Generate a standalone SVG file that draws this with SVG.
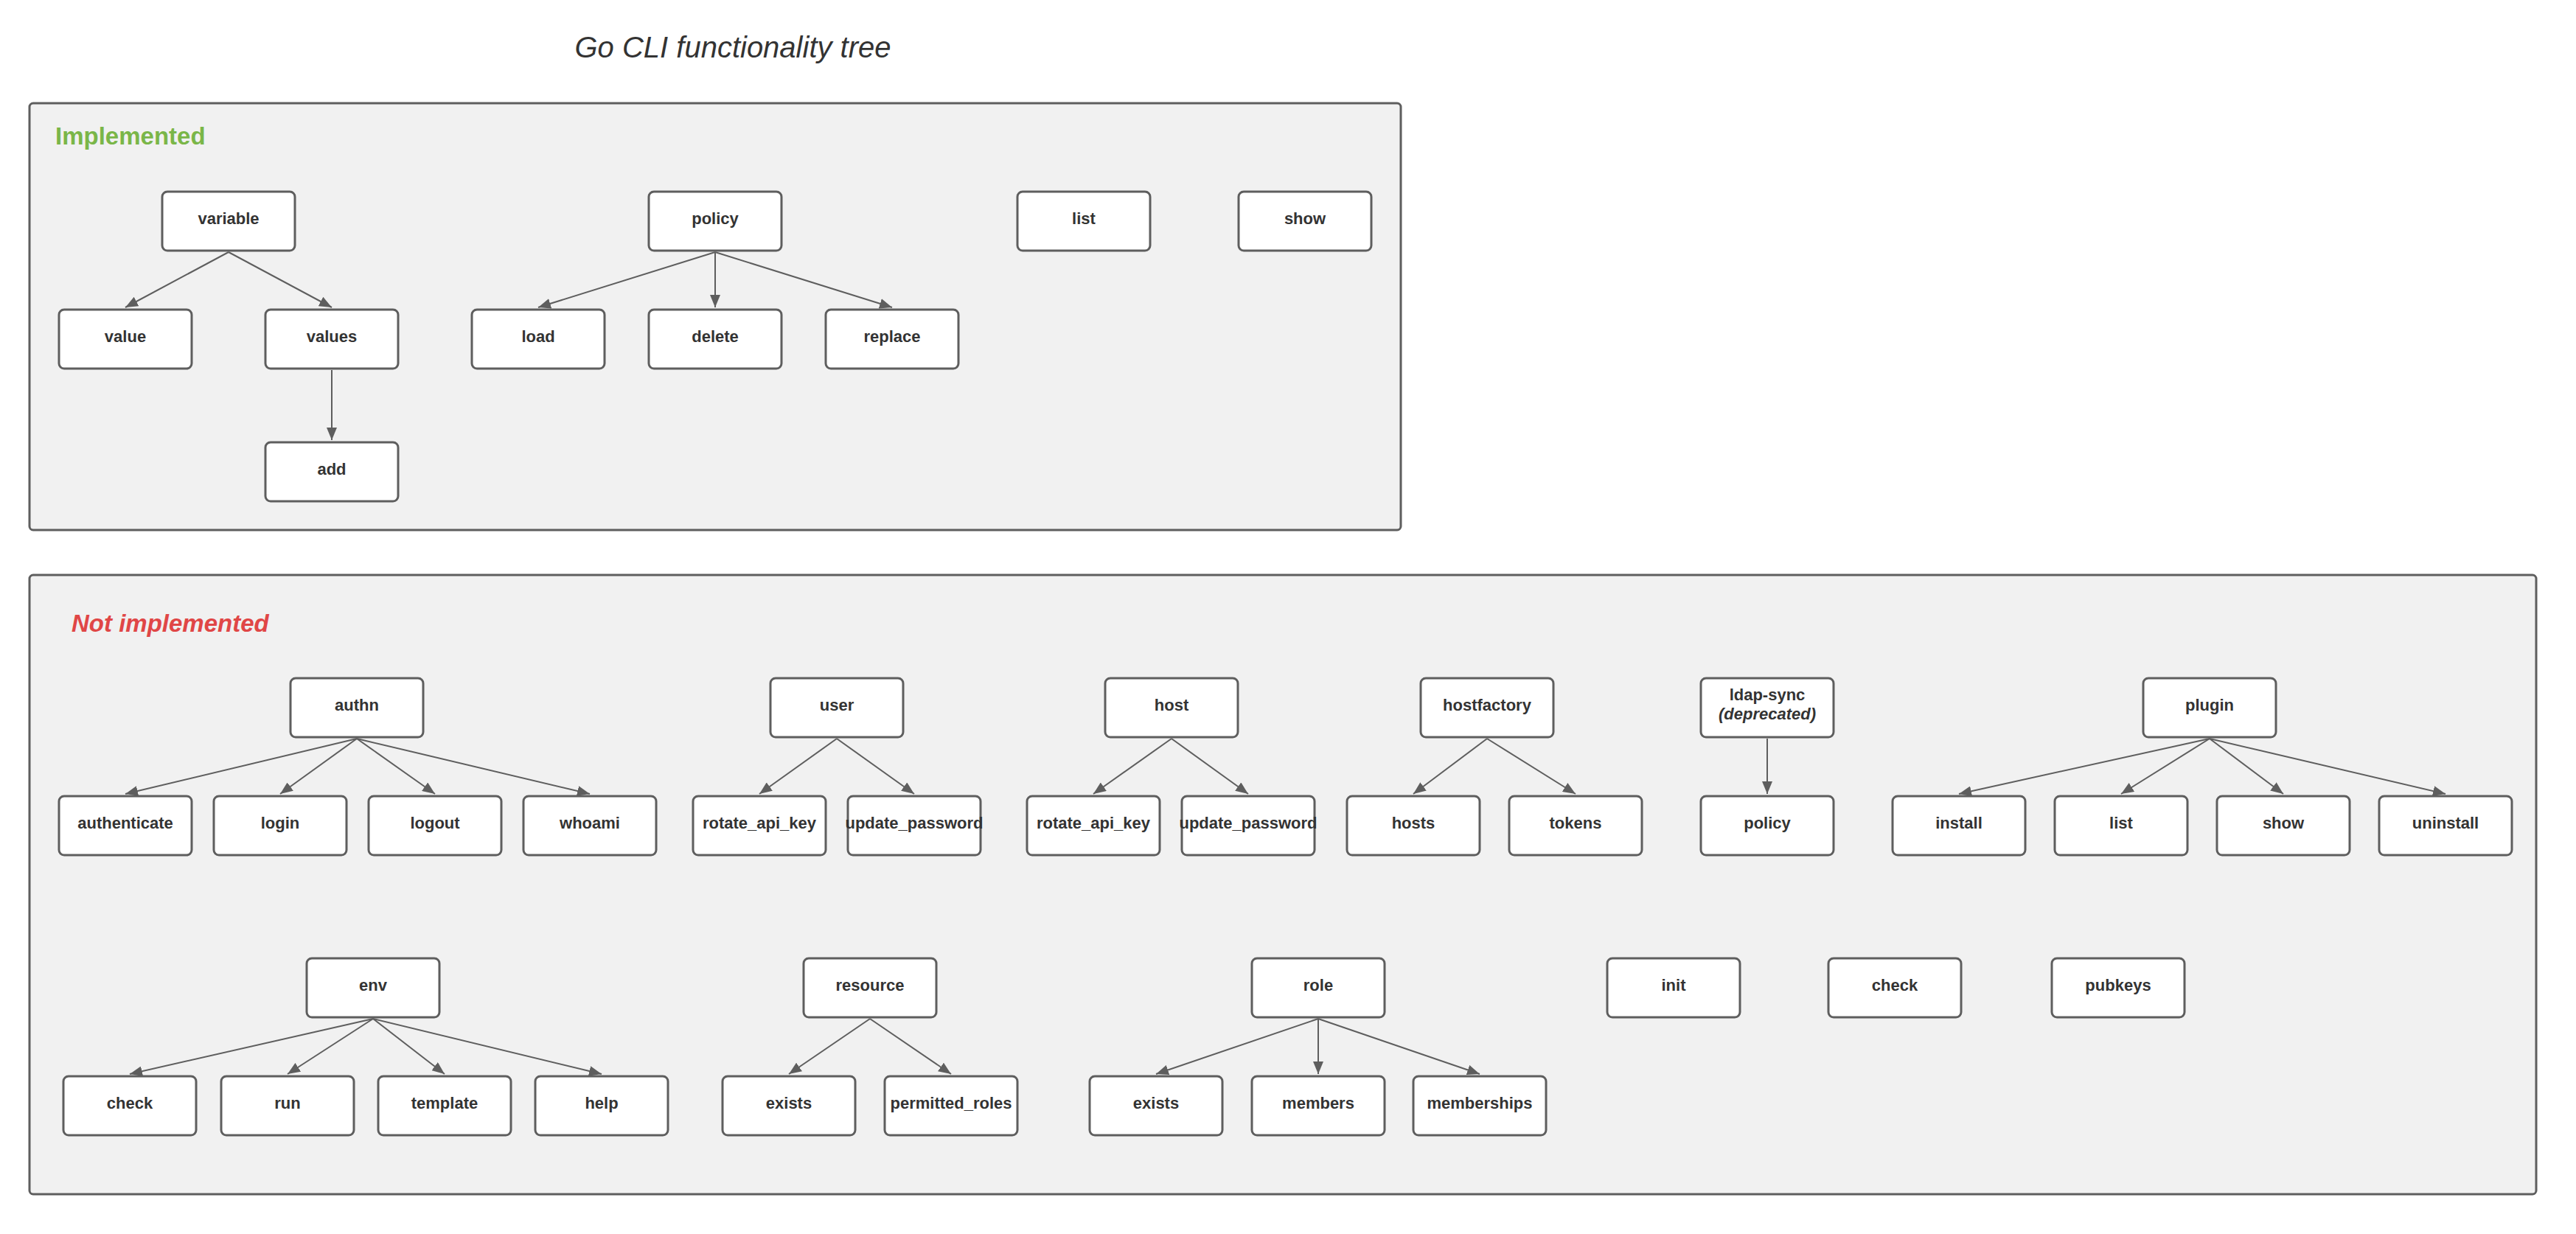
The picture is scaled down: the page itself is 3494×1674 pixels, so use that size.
<svg xmlns="http://www.w3.org/2000/svg" width="3494" height="1674" viewBox="0 0 3494 1674">
<style>
.bg{fill:#ffffff}
.cont{fill:#f1f1f1;stroke:#5e5e5e;stroke-width:3}
.nd rect{fill:#ffffff;stroke:#5e5e5e;stroke-width:3}
.nd text{font-family:"Liberation Sans",Arial,sans-serif;font-size:22px;font-weight:bold;fill:#333333;text-anchor:middle}
.title{font-family:"Liberation Sans",Arial,sans-serif;font-size:40px;font-style:italic;fill:#333333;text-anchor:middle}
.sec{font-family:"Liberation Sans",Arial,sans-serif;font-size:33px;font-weight:bold}
.conn line{stroke:#5e5e5e;stroke-width:2;marker-end:url(#arr)}
</style>
<defs>
<marker id="arr" markerUnits="userSpaceOnUse" markerWidth="18" markerHeight="14" refX="17" refY="7" orient="auto">
<path d="M0,0 L17,7 L0,14 z" fill="#5e5e5e"/>
</marker>
</defs>
<rect class="bg" x="0" y="0" width="3494" height="1674"/>
<text class="title" x="994" y="78">Go CLI functionality tree</text>

<g id="implemented">
<rect class="cont" x="40" y="140" width="1860" height="579" rx="5"/>
<text class="sec" x="75" y="196" fill="#7ab648">Implemented</text>
</g>
<g id="not-implemented">
<rect class="cont" x="40" y="780" width="3400" height="840" rx="5"/>
<text class="sec" x="97" y="857" fill="#e04646" font-style="italic">Not implemented</text>
</g>

<g id="connectors" class="conn">
<line x1="310" y1="342" x2="170" y2="417"/>
<line x1="310" y1="342" x2="450" y2="417"/>
<line x1="450" y1="502" x2="450" y2="597"/>
<line x1="970" y1="342" x2="730" y2="417"/>
<line x1="970" y1="342" x2="970" y2="417"/>
<line x1="970" y1="342" x2="1210" y2="417"/>

<line x1="484" y1="1002" x2="170" y2="1077"/>
<line x1="484" y1="1002" x2="380" y2="1077"/>
<line x1="484" y1="1002" x2="590" y2="1077"/>
<line x1="484" y1="1002" x2="800" y2="1077"/>
<line x1="1135" y1="1002" x2="1030" y2="1077"/>
<line x1="1135" y1="1002" x2="1240" y2="1077"/>
<line x1="1589" y1="1002" x2="1483" y2="1077"/>
<line x1="1589" y1="1002" x2="1693" y2="1077"/>
<line x1="2017" y1="1002" x2="1917" y2="1077"/>
<line x1="2017" y1="1002" x2="2137" y2="1077"/>
<line x1="2397" y1="1002" x2="2397" y2="1077"/>
<line x1="2997" y1="1002" x2="2657" y2="1077"/>
<line x1="2997" y1="1002" x2="2877" y2="1077"/>
<line x1="2997" y1="1002" x2="3097" y2="1077"/>
<line x1="2997" y1="1002" x2="3317" y2="1077"/>

<line x1="506" y1="1382" x2="176" y2="1457"/>
<line x1="506" y1="1382" x2="390" y2="1457"/>
<line x1="506" y1="1382" x2="603" y2="1457"/>
<line x1="506" y1="1382" x2="816" y2="1457"/>
<line x1="1180" y1="1382" x2="1070" y2="1457"/>
<line x1="1180" y1="1382" x2="1290" y2="1457"/>
<line x1="1788" y1="1382" x2="1568" y2="1457"/>
<line x1="1788" y1="1382" x2="1788" y2="1457"/>
<line x1="1788" y1="1382" x2="2007" y2="1457"/>
</g>

<g id="n-variable" class="nd"><rect x="220" y="260" width="180" height="80" rx="7"/><text x="310" y="304">variable</text></g>
<g id="n-value" class="nd"><rect x="80" y="420" width="180" height="80" rx="7"/><text x="170" y="464">value</text></g>
<g id="n-values" class="nd"><rect x="360" y="420" width="180" height="80" rx="7"/><text x="450" y="464">values</text></g>
<g id="n-add" class="nd"><rect x="360" y="600" width="180" height="80" rx="7"/><text x="450" y="644">add</text></g>
<g id="n-policy" class="nd"><rect x="880" y="260" width="180" height="80" rx="7"/><text x="970" y="304">policy</text></g>
<g id="n-load" class="nd"><rect x="640" y="420" width="180" height="80" rx="7"/><text x="730" y="464">load</text></g>
<g id="n-delete" class="nd"><rect x="880" y="420" width="180" height="80" rx="7"/><text x="970" y="464">delete</text></g>
<g id="n-replace" class="nd"><rect x="1120" y="420" width="180" height="80" rx="7"/><text x="1210" y="464">replace</text></g>
<g id="n-list" class="nd"><rect x="1380" y="260" width="180" height="80" rx="7"/><text x="1470" y="304">list</text></g>
<g id="n-show" class="nd"><rect x="1680" y="260" width="180" height="80" rx="7"/><text x="1770" y="304">show</text></g>

<g id="n-authn" class="nd"><rect x="394" y="920" width="180" height="80" rx="7"/><text x="484" y="964">authn</text></g>
<g id="n-authenticate" class="nd"><rect x="80" y="1080" width="180" height="80" rx="7"/><text x="170" y="1124">authenticate</text></g>
<g id="n-login" class="nd"><rect x="290" y="1080" width="180" height="80" rx="7"/><text x="380" y="1124">login</text></g>
<g id="n-logout" class="nd"><rect x="500" y="1080" width="180" height="80" rx="7"/><text x="590" y="1124">logout</text></g>
<g id="n-whoami" class="nd"><rect x="710" y="1080" width="180" height="80" rx="7"/><text x="800" y="1124">whoami</text></g>
<g id="n-user" class="nd"><rect x="1045" y="920" width="180" height="80" rx="7"/><text x="1135" y="964">user</text></g>
<g id="n-user-rotate" class="nd"><rect x="940" y="1080" width="180" height="80" rx="7"/><text x="1030" y="1124">rotate_api_key</text></g>
<g id="n-user-update" class="nd"><rect x="1150" y="1080" width="180" height="80" rx="7"/><text x="1240" y="1124">update_password</text></g>
<g id="n-host" class="nd"><rect x="1499" y="920" width="180" height="80" rx="7"/><text x="1589" y="964">host</text></g>
<g id="n-host-rotate" class="nd"><rect x="1393" y="1080" width="180" height="80" rx="7"/><text x="1483" y="1124">rotate_api_key</text></g>
<g id="n-host-update" class="nd"><rect x="1603" y="1080" width="180" height="80" rx="7"/><text x="1693" y="1124">update_password</text></g>
<g id="n-hostfactory" class="nd"><rect x="1927" y="920" width="180" height="80" rx="7"/><text x="2017" y="964">hostfactory</text></g>
<g id="n-hosts" class="nd"><rect x="1827" y="1080" width="180" height="80" rx="7"/><text x="1917" y="1124">hosts</text></g>
<g id="n-tokens" class="nd"><rect x="2047" y="1080" width="180" height="80" rx="7"/><text x="2137" y="1124">tokens</text></g>
<g id="n-ldap-sync" class="nd"><rect x="2307" y="920" width="180" height="80" rx="7"/><text x="2397" y="950">ldap-sync</text><text x="2397" y="976" font-style="italic">(deprecated)</text></g>
<g id="n-ldap-policy" class="nd"><rect x="2307" y="1080" width="180" height="80" rx="7"/><text x="2397" y="1124">policy</text></g>
<g id="n-plugin" class="nd"><rect x="2907" y="920" width="180" height="80" rx="7"/><text x="2997" y="964">plugin</text></g>
<g id="n-install" class="nd"><rect x="2567" y="1080" width="180" height="80" rx="7"/><text x="2657" y="1124">install</text></g>
<g id="n-plugin-list" class="nd"><rect x="2787" y="1080" width="180" height="80" rx="7"/><text x="2877" y="1124">list</text></g>
<g id="n-plugin-show" class="nd"><rect x="3007" y="1080" width="180" height="80" rx="7"/><text x="3097" y="1124">show</text></g>
<g id="n-uninstall" class="nd"><rect x="3227" y="1080" width="180" height="80" rx="7"/><text x="3317" y="1124">uninstall</text></g>

<g id="n-env" class="nd"><rect x="416" y="1300" width="180" height="80" rx="7"/><text x="506" y="1344">env</text></g>
<g id="n-env-check" class="nd"><rect x="86" y="1460" width="180" height="80" rx="7"/><text x="176" y="1504">check</text></g>
<g id="n-run" class="nd"><rect x="300" y="1460" width="180" height="80" rx="7"/><text x="390" y="1504">run</text></g>
<g id="n-template" class="nd"><rect x="513" y="1460" width="180" height="80" rx="7"/><text x="603" y="1504">template</text></g>
<g id="n-help" class="nd"><rect x="726" y="1460" width="180" height="80" rx="7"/><text x="816" y="1504">help</text></g>
<g id="n-resource" class="nd"><rect x="1090" y="1300" width="180" height="80" rx="7"/><text x="1180" y="1344">resource</text></g>
<g id="n-res-exists" class="nd"><rect x="980" y="1460" width="180" height="80" rx="7"/><text x="1070" y="1504">exists</text></g>
<g id="n-permitted" class="nd"><rect x="1200" y="1460" width="180" height="80" rx="7"/><text x="1290" y="1504">permitted_roles</text></g>
<g id="n-role" class="nd"><rect x="1698" y="1300" width="180" height="80" rx="7"/><text x="1788" y="1344">role</text></g>
<g id="n-role-exists" class="nd"><rect x="1478" y="1460" width="180" height="80" rx="7"/><text x="1568" y="1504">exists</text></g>
<g id="n-members" class="nd"><rect x="1698" y="1460" width="180" height="80" rx="7"/><text x="1788" y="1504">members</text></g>
<g id="n-memberships" class="nd"><rect x="1917" y="1460" width="180" height="80" rx="7"/><text x="2007" y="1504">memberships</text></g>
<g id="n-init" class="nd"><rect x="2180" y="1300" width="180" height="80" rx="7"/><text x="2270" y="1344">init</text></g>
<g id="n-check" class="nd"><rect x="2480" y="1300" width="180" height="80" rx="7"/><text x="2570" y="1344">check</text></g>
<g id="n-pubkeys" class="nd"><rect x="2783" y="1300" width="180" height="80" rx="7"/><text x="2873" y="1344">pubkeys</text></g>
</svg>
